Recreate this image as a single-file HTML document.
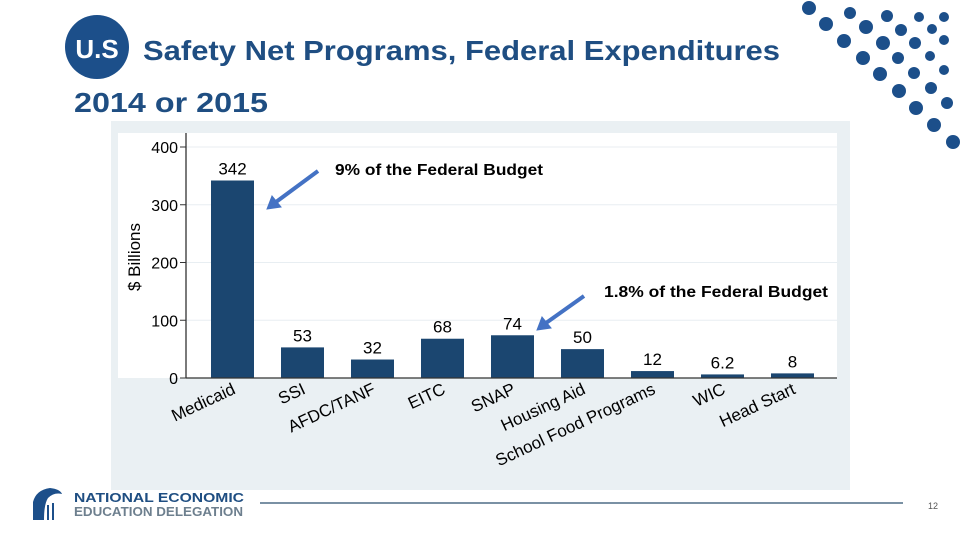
<!DOCTYPE html>
<html><head><meta charset="utf-8"><style>
body{margin:0;width:960px;height:540px;background:#fff;overflow:hidden;font-family:"Liberation Sans",sans-serif}
svg{position:absolute;left:0;top:0}
</style></head><body>
<svg id="s" width="960" height="540" viewBox="0 0 960 540">
<g id="dots"></g>
<circle cx="97" cy="47" r="32" fill="#1c4f8a"/>
<text x="97" y="58" text-anchor="middle" font-size="26" font-weight="bold" fill="#fff">U.S</text>
<text x="143" y="60" font-size="28" font-weight="bold" fill="#1f4e82" textLength="637" lengthAdjust="spacingAndGlyphs">Safety Net Programs, Federal Expenditures</text>
<text x="74" y="112" font-size="28" font-weight="bold" fill="#1f4e82" textLength="194" lengthAdjust="spacingAndGlyphs">2014 or 2015</text>
<rect x="111" y="121" width="739" height="369" fill="#eaf0f3"/>
<rect x="118" y="133" width="719" height="245" fill="#fff"/>
<g id="chart"></g>
<text x="140" y="257" text-anchor="middle" font-size="17" fill="#000" transform="rotate(-90 140 257)">$ Billions</text>
<text x="335" y="175" font-size="16" font-weight="bold" fill="#000" textLength="208" lengthAdjust="spacingAndGlyphs">9% of the Federal Budget</text>
<text x="604" y="297" font-size="16" font-weight="bold" fill="#000" textLength="224" lengthAdjust="spacingAndGlyphs">1.8% of the Federal Budget</text>
<g stroke="#4472c4" stroke-width="4" fill="#4472c4">
<line x1="318" y1="171" x2="276" y2="202"/>
<polygon points="267,209 272,196 281,207" stroke-width="1"/>
<line x1="584" y1="296" x2="546" y2="323"/>
<polygon points="537,330 542,317 551,328" stroke-width="1"/>
</g>
<g>
<path d="M33 520 L33 502 Q36 490 50 488 Q60 489 62 494 Q54 492 48 498 Q44 504 44 520 Z" fill="#1c4f8a"/>
<rect x="36" y="505" width="2" height="15" fill="#1c4f8a"/><rect x="41" y="503" width="2" height="17" fill="#1c4f8a"/><rect x="47" y="505" width="2" height="15" fill="#1c4f8a"/><rect x="52" y="503" width="2" height="17" fill="#1c4f8a"/>
<text x="74" y="502" font-size="12.5" font-weight="bold" fill="#1f4e82" textLength="170" lengthAdjust="spacingAndGlyphs">NATIONAL ECONOMIC</text>
<text x="74" y="516" font-size="12.5" font-weight="bold" fill="#6d7f8e" textLength="169" lengthAdjust="spacingAndGlyphs">EDUCATION DELEGATION</text>
</g>
<line x1="260" y1="503" x2="903" y2="503" stroke="#2a4f6e" stroke-width="1.2"/>
<text x="933" y="509" text-anchor="middle" font-size="9" fill="#555">12</text>
</svg>
<script>
const categories=["Medicaid","SSI","AFDC/TANF","EITC","SNAP","Housing Aid","School Food Programs","WIC","Head Start"];
const values=[342,53,32,68,74,50,12,6.2,8];
const valueLabels=["342","53","32","68","74","50","12","6.2","8"];
const yTicks=[0,100,200,300,400];
const NS="http://www.w3.org/2000/svg";
const g=document.getElementById('chart');
const y0=378,yPer=231/400,x0=232.5,pitch=70,bw=43;
function yS(v){return y0-v*yPer;}
function xS(i){return x0+i*pitch;}
function mk(t,a){const e=document.createElementNS(NS,t);for(const k in a)e.setAttribute(k,a[k]);g.appendChild(e);return e;}
yTicks.forEach((t,i)=>{
 if(t>0){const gl=mk('line',{x1:186,x2:837,y1:yS(t),y2:yS(t),stroke:'#e8eef2','stroke-width':1});
 
 }
 const tk=mk('line',{x1:180,x2:186,y1:yS(t),y2:yS(t),stroke:'#333','stroke-width':1});
 
 
 const tl=mk('text',{x:178,y:yS(t)+6,'text-anchor':'end','font-size':16,fill:'#000'});tl.textContent=t;
 
 
});
categories.forEach((c,i)=>{
 const cx=xS(i),v=values[i];
 const b=mk('rect',{x:cx-bw/2,y:yS(v),width:bw,height:y0-yS(v),fill:'#1b4670'});
 
 
 const vl=mk('text',{x:cx,y:yS(v)-6,'text-anchor':'middle','font-size':17,fill:'#000'});vl.textContent=valueLabels[i];
 
 
 const xl=mk('text',{x:cx+4,y:393,'text-anchor':'end','font-size':17,fill:'#000',transform:`rotate(-25 ${cx+4} 393)`});xl.textContent=c;
 
 
});
const ax=mk('line',{x1:186,x2:837,y1:y0,y2:y0,stroke:'#333','stroke-width':1.3});


const ay=mk('line',{x1:186,x2:186,y1:133,y2:y0,stroke:'#333','stroke-width':1.3});


const dots=[[809,8,7],[850,13,6],[887,16,6],[919,17,5],[944,17,5],[826,24,7],[866,27,7],[901,30,6],[932,29,5],[844,41,7],[883,43,7],[915,43,6],[944,40,5],[863,58,7],[898,58,6],[930,56,5],[880,74,7],[914,73,6],[944,70,5],[899,91,7],[931,88,6],[916,108,7],[947,103,6],[934,125,7],[953,142,7]];
const dg=document.getElementById('dots');
dots.forEach(d=>{const c=document.createElementNS(NS,'circle');c.setAttribute('cx',d[0]);c.setAttribute('cy',d[1]);c.setAttribute('r',d[2]);c.setAttribute('fill','#1c4f8a');
 
 
 dg.appendChild(c);});
</script>
</body></html>
